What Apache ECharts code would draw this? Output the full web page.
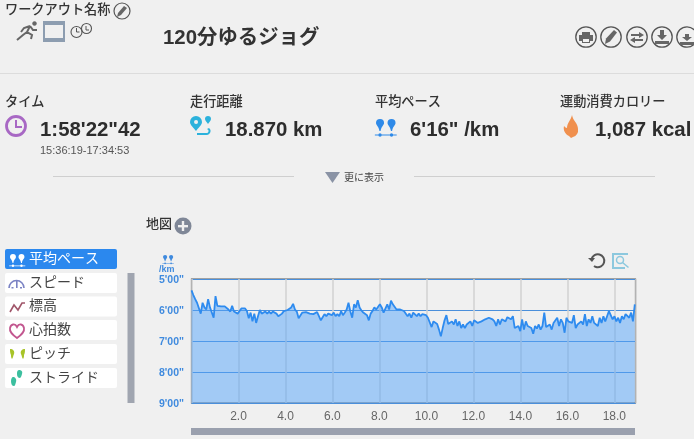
<!DOCTYPE html>
<html lang="ja">
<head>
<meta charset="utf-8">
<title>120分ゆるジョグ</title>
<script src="https://cdn.jsdelivr.net/npm/echarts@6/dist/echarts.min.js"></script>
<style>
  html, body { margin: 0; padding: 0; background: #f0f0f0; overflow: hidden; }
  #main { width: 694px; height: 439px; }
</style>
</head>
<body>
<div id="main"></div>
<script>
// ペース (秒/km)
const paceSec = [
  322,331,339,346,349,367,346,355,359,339,355,355,375,333,352,352,353,353,353,352,
  359,363,352,363,364,367,364,357,357,357,362,376,365,382,367,385,372,360,367,364,
  363,367,363,367,363,365,367,372,374,367,362,361,360,360,355,348,359,363,376,378,
  365,368,364,367,367,364,368,367,364,372,380,374,368,372,367,368,370,365,372,368,
  372,362,370,365,359,346,363,375,349,355,341,355,361,365,368,370,380,367,362,355,
  359,357,349,355,365,363,349,359,342,349,346,359,362,359,359,362,365,372,367,375,
  365,368,372,367,372,368,370,370,375,375,393,382,383,387,398,411,395,380,370,387,
  389,382,388,378,391,382,395,388,395,388,385,382,391,380,383,385,382,382,380,378,
  377,375,378,378,382,391,378,388,378,377,382,374,377,378,372,395,398,391,401,378,
  398,382,391,388,395,406,391,396,388,398,391,365,393,391,388,398,385,382,375,391,
  378,385,404,375,382,380,385,370,395,388,385,382,388,368,391,378,385,372,385,382,
  391,375,385,372,382,372,362,362,378,372,382,375,385,372,378,368,365,375,365,382,349
];
const totalKm = 18.87;
const xTicks = [2, 4, 6, 8, 10, 12, 14, 16, 18];
const menuItems = ['平均ペース', 'スピード', '標高', '心拍数', 'ピッチ', 'ストライド'];
const stats = [
  ['タイム', "1:58'22\"42"],
  ['走行距離', '18.870 km'],
  ['平均ペース', '6\'16" /km'],
  ['運動消費カロリー', '1,087 kcal']
];

const FONT = 'Arial, "Liberation Sans", "Noto Sans CJK JP", sans-serif';
const BLUE = '#3f8ade';

function text(x, y, str, size, color, weight, align) {
  return {
    type: 'text', x: x, y: y, silent: true,
    style: {
      text: str, fontFamily: FONT, fontSize: size, fill: color,
      fontWeight: weight || 'normal', textAlign: align || 'left', textVerticalAlign: 'middle'
    }
  };
}
function rect(x, y, w, h, fill, r) {
  return { type: 'rect', silent: true, shape: { x: x, y: y, width: w, height: h, r: r || 0 }, style: { fill: fill } };
}
function hline(x1, x2, y, color) {
  return { type: 'line', silent: true, shape: { x1: x1, y1: y, x2: x2, y2: y }, style: { stroke: color, lineWidth: 1 } };
}
function circle(cx, cy, r, stroke, lw, fill) {
  return { type: 'circle', silent: true, shape: { cx: cx, cy: cy, r: r }, style: { stroke: stroke, lineWidth: lw, fill: fill || 'transparent' } };
}
// graphic コンポーネントは path を直接受けないので形状を登録する
let iconCount = 0;
function icon(x, y, d, fill, stroke, lw) {
  const name = 'icon' + (iconCount++);
  echarts.graphic.registerShape(name, echarts.graphic.extendPath(d, {}));
  return {
    type: name, silent: true, x: x, y: y,
    style: { fill: fill || 'transparent', stroke: stroke || 'transparent', lineWidth: lw || 1 }
  };
}
function paceIcon(x, y, color, s) {
  const d = 'M0 3.5a3.5 3.5 0 1 1 7 0c0 2-2.5 3-3 7h-1c-.5-4-3-5-3-7z' +
    'M10 3.5a3.5 3.5 0 1 1 7 0c0 2-2.5 3-3 7h-1c-.5-4-3-5-3-7z' +
    'M-1 13.5h19v.8h-19z' +
    'M2 13.9a1.5 1.5 0 1 1 3 0a1.5 1.5 0 1 1-3 0zM12 13.9a1.5 1.5 0 1 1 3 0a1.5 1.5 0 1 1-3 0z';
  const p = icon(x, y, d, color);
  p.scaleX = s; p.scaleY = s;
  return p;
}

const graphics = [];

// ヘッダー
graphics.push(text(5, 10.5, 'ワークアウト名称', 13.2, '#333', 500));
graphics.push(circle(122, 11, 8, '#555', 1.2));
graphics.push(icon(117, 6, 'M7 0l3 2-6 7-4 2 1-4z', '#666'));
graphics.push(icon(16, 21, 'M14 5L8 7L5 11M14 5L11 11L16 14L15 18M11 11L7 14L1 19M14 5L17 9L21 9', 'transparent', '#666', 2));
graphics.push(circle(34.5, 23.5, 2, '#666', 0.5, '#666'));
graphics.push(rect(43, 21, 22, 21, '#8d9db0'));
graphics.push(rect(45, 25, 18, 13, '#f0f0f0'));
graphics.push(circle(76.5, 32, 5.5, '#555', 1.1));
graphics.push(circle(86.5, 28.5, 5, '#555', 1.1));
graphics.push(icon(76, 28, 'M.5 0v4h3M10 -2v4h3', 'transparent', '#555', 1));
graphics.push(text(163, 38.5, '120分ゆるジョグ', 20.4, '#333', 'bold'));

const btnX = [586, 611, 637, 662, 687];
btnX.forEach(function (x) { graphics.push(circle(x, 37, 10.2, '#555', 1.3)); });
graphics.push(icon(579, 32, 'M3 0h8v3h3v6h-3v2h-8v-2h-3v-6h3zM4 7v3h6v-3z', '#666'));
graphics.push(icon(605, 30, 'M9 0l3 2.5-7 9-5 2.5 1-5.5z', '#666'));
graphics.push(icon(630, 32, 'M9 0l5 3-5 3v-2h-8v-2h8zM5 5v2h8v2h-8v2l-5-3z', '#666'));
graphics.push(icon(655, 30, 'M5 0h4v5h3l-5 5-5-5h3zM0 11h14v3h-14z', '#666'));
graphics.push(icon(680, 32, 'M5 2h4v3h3l-5 4-5-4h3zM0 10h14v3h-14z', '#666'));
graphics.push(hline(0, 694, 73.5, '#dcdcdc'));

// サマリー
const statX = [5, 190, 375, 560];
const valueX = [40, 225, 410, 595];
stats.forEach(function (s, i) {
  graphics.push(text(statX[i], 102.5, s[0], 13.2, '#333', 500));
  graphics.push(text(valueX[i], 130.5, s[1], 20.4, '#2d2d2d', 'bold'));
});
graphics.push(circle(16, 126, 9.5, '#a868c4', 2.8));
graphics.push(icon(15, 120, 'M0 0h2v6h5v2h-7z', '#a868c4'));
graphics.push(text(40, 151, '15:36:19-17:34:53', 11, '#555'));
graphics.push(icon(190, 116, 'M6 0a6 6 0 0 1 6 6c0 3-4 6-6 9-2-3-6-6-6-9a6 6 0 0 1 6-6zM6 4a2 2 0 1 0 .1 0zM18 0a3 3 0 0 1 3 3c0 2-2 3-3 5-1-2-3-3-3-5a3 3 0 0 1 3-3zM7 17h9a2 2 0 0 0 1-4l2-1a4 4 0 0 1-3 7h-9z', '#2cb2dc'));
graphics.push(paceIcon(376, 119, '#2f8ae8', 1.15));
graphics.push(icon(563, 115, 'M9 0c1 6 6 8 6 14a7 7 0 0 1-5 8l-2 1-2-2c-4-2-6-6-5-10 1 1 2 2 3 2 0-5 4-8 5-13z', '#f0904e'));

graphics.push(hline(53, 294, 176.5, '#cfcfcf'));
graphics.push(hline(414, 655, 176.5, '#cfcfcf'));
graphics.push(icon(325, 172, 'M0 0h15l-7.5 11z', '#8a93a5'));
graphics.push(text(344, 178, '更に表示', 10, '#444'));

graphics.push(text(146, 224.5, '地図', 13, '#333', 500));
graphics.push({ type: 'circle', silent: true, shape: { cx: 183, cy: 226, r: 8.5 }, style: { fill: '#7f8797' } });
graphics.push(rect(178, 225, 10, 2.4, '#f0f0f0'));
graphics.push(rect(181.8, 221, 2.4, 10, '#f0f0f0'));

// 左メニュー
const menuY = [249, 273, 296.5, 320, 344, 368];
menuItems.forEach(function (name, i) {
  graphics.push(rect(5, menuY[i], 112, 20, i === 0 ? '#2b88ee' : '#fff', 2));
  graphics.push(text(29, menuY[i] + 10, name, 14, i === 0 ? '#fff' : '#444'));
});
graphics.push(paceIcon(10, 254, '#fff', 0.85));
graphics.push(icon(9, 275, 'M0 13A7.5 7.5 0 1 1 15 13', 'transparent', '#7b83c4', 1.6));
graphics.push(icon(9, 275, 'M7 5h1.6v8h-1.6zM2.5 12h2v1.5h-2zM11 12h2v1.5h-2z', '#7b83c4'));
graphics.push(icon(10, 299, 'M0 13l4-7 4 5 4-7 3 0', 'transparent', '#a0566a', 1.6));
graphics.push(icon(9, 323, 'M8 15c-4-3-8-6-7-10 1-4 5-5 7-1 2-4 6-3 7 1 1 4-3 7-7 10z', 'transparent', '#c2568f', 1.8));
graphics.push(icon(10, 349, 'M0 0c3 0 5 2 4 5-1 2-1 4-2 5-1-1-1-3-1-4-1-2-1-4-1-6zM15 0c-3 0-5 2-4 5 1 2 1 4 2 5 1-1 1-3 1-4 1-2 1-4 1-6z', '#a8c428'));
graphics.push(icon(11, 370, 'M8 0c2 0 4 1 3 4-1 3-1 4-3 4-2-1-2-3-2-5 0-2 1-3 2-3zM2 7c2 0 4 2 3 5-1 3-1 4-2 4-2 0-3-2-3-5 0-2 1-4 2-4z', '#3cbf9f'));
graphics.push(rect(127.5, 273, 7, 130, '#a0a5b0'));

// グラフ周り
graphics.push(paceIcon(163, 255, '#3f8ade', 0.6));
graphics.push(text(159, 270, '/km', 9, BLUE, 'bold'));
graphics.push(icon(589, 252, 'M2.5 7A6.5 6.5 0 1 1 5 14', 'transparent', '#555', 2));
graphics.push(icon(589, 252, 'M-1 6h7l-3 4z', '#555'));
graphics.push(icon(612, 253, 'M0 0h16v2h-14v12h11v2h-13z', '#8cc8de'));
graphics.push(circle(620, 260, 3.5, '#8cc8de', 1.5));
graphics.push(icon(622, 262, 'M0 1l1-1 6 5-1 1z', '#8cc8de'));
graphics.push(rect(191, 428, 444, 7, '#9aa0ae'));

const lineData = paceSec.map(function (v, i) {
  return [i * totalKm / (paceSec.length - 1), v];
});

function paceLabel(v) {
  const s = v % 60;
  return Math.floor(v / 60) + "'" + (s < 10 ? '0' : '') + s + '"';
}

const chart = echarts.init(document.getElementById('main'));
chart.setOption({
  backgroundColor: '#f0f0f0',
  animation: false,
  grid: { left: 191.5, top: 279, width: 444, height: 124, show: true, borderColor: '#555', borderWidth: 1.2, backgroundColor: 'transparent' },
  xAxis: {
    type: 'value',
    min: 0,
    max: 18.9,
    interval: 2,
    axisLine: { show: false },
    axisTick: { show: false },
    splitLine: { show: true, lineStyle: { color: '#d2d2d2', width: 1.5 } },
    axisLabel: {
      color: '#666', fontSize: 12, fontFamily: FONT, margin: 8,
      showMinLabel: false, showMaxLabel: false,
      formatter: function (v) { return xTicks.indexOf(v) >= 0 ? v.toFixed(1) : ''; }
    }
  },
  yAxis: {
    type: 'value',
    inverse: true,
    min: 300,
    max: 540,
    interval: 60,
    axisLine: { show: false },
    axisTick: { show: false },
    splitLine: { show: true, lineStyle: { color: '#4a8fdb', width: 1 } },
    // ラベルは目盛りより少し下に置く
    axisLabel: { color: BLUE, fontSize: 10.5, fontWeight: 'bold', fontFamily: FONT, margin: 7.5, verticalAlign: 'top', lineHeight: 3, formatter: paceLabel }
  },
  series: [{
    type: 'line',
    data: lineData,
    showSymbol: false,
    lineStyle: { color: '#2e8bef', width: 1.8 },
    areaStyle: { color: 'rgb(84,164,250)', opacity: 0.5, origin: 'end' }
  }],
  graphic: { elements: graphics }
});
</script>
</body>
</html>
